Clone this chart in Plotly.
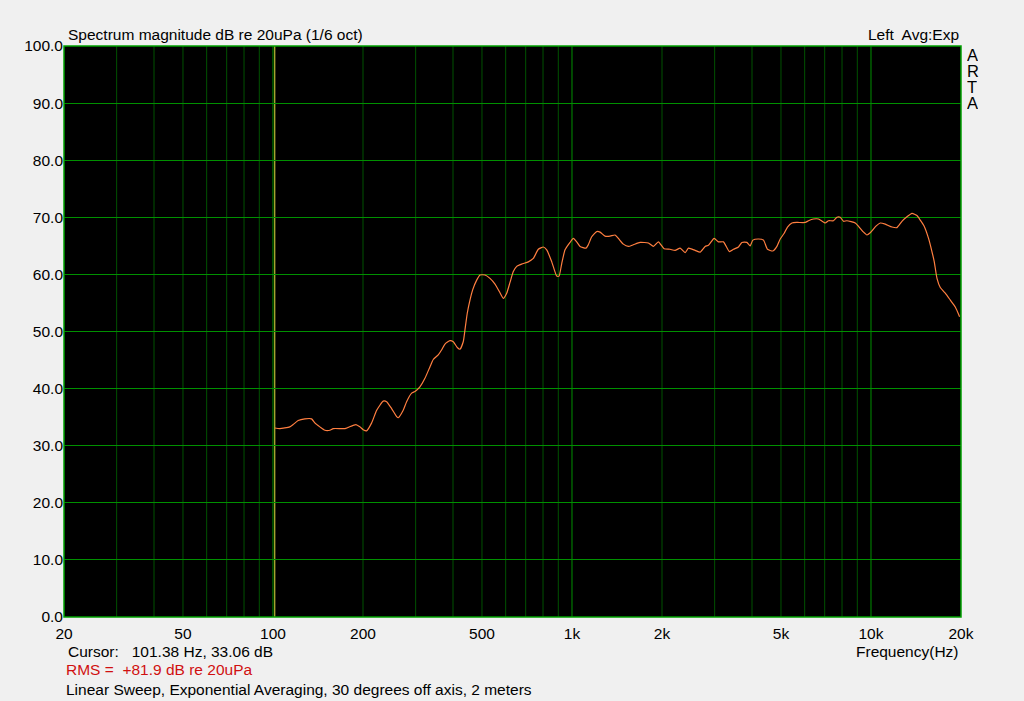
import plotly.graph_objects as go

freq_hz = [101.4, 105.4, 113.8, 116.8, 121.4, 127.8, 134.6, 138.0, 143.5, 149.1,
           155.0, 159.0, 174.0, 178.4, 189.4, 195.2, 200.3, 205.6, 213.8, 222.2,
           233.7, 239.9, 249.3, 259.2, 262.4, 272.6, 279.8, 290.9, 298.4, 310.0,
           322.2, 334.9, 343.6, 357.0, 366.6, 376.0, 390.8, 400.9, 413.4, 422.0,
           432.8, 438.6, 446.4, 455.8, 465.4, 480.0, 492.4, 511.8, 531.8, 552.8,
           571.4, 589.2, 604.8, 620.4, 636.4, 653.4, 679.0, 714.4, 742.4, 771.6,
           802.0, 823.2, 855.6, 889.2, 905.0, 924.0, 947.8, 985.0, 1010, 1037,
           1064, 1114, 1134, 1164, 1210, 1241, 1290, 1341, 1393, 1429,
           1485, 1544, 1604, 1689, 1801, 1872, 1945, 2032, 2128, 2212,
           2300, 2390, 2452, 2582, 2682, 2788, 2860, 2988, 3090, 3210,
           3362, 3468, 3604, 3700, 3844, 3944, 4026, 4204, 4370, 4506,
           4698, 4846, 4970, 5126, 5258, 5440, 5652, 6026, 6180, 6422,
           6674, 7028, 7210, 7492, 7692, 7890, 8094, 8308, 8860, 9088,
           9398, 9692, 9942, 10412, 10740, 11162, 11752, 12212, 12690, 13190,
           13710, 14248, 14618, 15076, 15578, 15990, 16280, 16622, 17050, 17722,
           18420, 19140, 19786]
level_db = [33.1, 33.0, 33.3, 33.7, 34.4, 34.7, 34.7, 34.0, 33.3, 32.7,
            32.7, 33.0, 33.0, 33.2, 33.7, 33.3, 32.8, 32.6, 34.0, 36.2,
            37.8, 37.7, 36.5, 35.1, 34.9, 36.2, 37.7, 39.2, 39.5, 40.3,
            41.8, 43.8, 45.1, 45.9, 46.8, 47.8, 48.4, 48.2, 47.2, 46.9,
            48.2, 50.3, 53.2, 55.5, 57.3, 59.0, 59.9, 59.9, 59.3, 58.3,
            57.0, 55.8, 56.7, 58.6, 60.5, 61.4, 61.8, 62.2, 62.8, 64.4,
            64.8, 64.3, 62.2, 59.7, 59.7, 61.9, 64.3, 65.6, 66.3, 65.7,
            64.9, 64.6, 65.2, 66.6, 67.5, 67.4, 66.7, 66.7, 66.9, 66.3,
            65.3, 64.9, 65.2, 65.6, 65.5, 64.9, 65.7, 64.5, 64.4, 64.2,
            64.6, 63.8, 64.6, 64.2, 63.9, 64.9, 65.1, 66.3, 65.7, 65.7,
            64.0, 64.4, 64.8, 65.6, 65.6, 65.0, 66.0, 66.2, 66.0, 64.4,
            64.1, 64.9, 66.2, 67.2, 68.3, 69.0, 69.1, 69.1, 69.4, 69.7,
            69.7, 69.0, 69.4, 69.4, 70.0, 70.0, 69.3, 69.4, 69.0, 68.4,
            67.5, 66.9, 67.3, 68.5, 69.0, 68.8, 68.3, 68.2, 69.3, 70.1,
            70.7, 70.3, 69.5, 68.4, 66.3, 64.0, 62.2, 59.3, 57.7, 56.7,
            55.5, 54.3, 52.6]

x_tick_vals = [20, 50, 100, 200, 500, 1000, 2000, 5000, 10000, 20000]
x_tick_text = ["20", "50", "100", "200", "500", "1k", "2k", "5k", "10k", "20k"]
minor_grid_vals = [30, 40, 50, 60, 70, 80, 90, 200, 300, 400, 500, 600, 700, 800, 900,
                   2000, 3000, 4000, 5000, 6000, 7000, 8000, 9000]
decade_vals = [100, 1000, 10000]
y_tick_vals = [0, 10, 20, 30, 40, 50, 60, 70, 80, 90, 100]
y_tick_text = ["0.0", "10.0", "20.0", "30.0", "40.0", "50.0", "60.0", "70.0", "80.0", "90.0", "100.0"]
cursor_hz = 101.38
side_letters = ["A", "R", "T", "A"]

FONT = "Liberation Sans, Arial, sans-serif"
FS = 15.5

fig = go.Figure()
fig.add_trace(go.Scatter(x=freq_hz, y=level_db, mode="lines",
                         line=dict(color="#FF7F40", width=1.2, shape="spline", smoothing=0.5),
                         hoverinfo="skip", showlegend=False))

shapes = []
for v in minor_grid_vals:
    shapes.append(dict(type="line", xref="x", yref="paper", x0=v, x1=v, y0=0, y1=1,
                       line=dict(color="#005200", width=1), layer="below"))
for v in decade_vals:
    shapes.append(dict(type="line", xref="x", yref="paper", x0=v, x1=v, y0=0, y1=1,
                       line=dict(color="#009000", width=1), layer="below"))
shapes.append(dict(type="line", xref="x", yref="paper", x0=cursor_hz, x1=cursor_hz, y0=0, y1=1,
                   line=dict(color="#E0E040", width=1), layer="below"))
shapes.append(dict(type="rect", xref="paper", yref="paper", x0=0, x1=1, y0=0, y1=1,
                   line=dict(color="#00A000", width=1.5), fillcolor="rgba(0,0,0,0)"))

fig.update_layout(
    width=1024, height=701,
    margin=dict(l=64, r=63, t=46, b=84),
    paper_bgcolor="#F0F0F0", plot_bgcolor="#000000",
    font=dict(family=FONT, size=FS, color="#000000"),
    shapes=shapes,
    xaxis=dict(type="log", range=[1.30103, 4.30103], tickvals=x_tick_vals, ticktext=x_tick_text,
               showgrid=False, zeroline=False, ticks="", showline=False, ticklabelstandoff=5,
               tickfont=dict(size=FS, family=FONT)),
    yaxis=dict(range=[0, 100], tickvals=y_tick_vals, ticktext=y_tick_text,
               showgrid=True, gridcolor="#009000", gridwidth=1, zeroline=False,
               ticks="", showline=False, tickfont=dict(size=FS, family=FONT)),
)

ann = [
    dict(text="Spectrum magnitude dB re 20uPa (1/6 oct)", x=0.002, y=(617 - 34) / 571, xanchor="left", yanchor="middle"),
    dict(text="Left  Avg:Exp", x=1.0, y=(617 - 34) / 571, xanchor="right", yanchor="middle"),
    dict(text="Cursor:   101.38 Hz, 33.06 dB", x=0.002, y=(617 - 651) / 571, xanchor="left", yanchor="middle"),
    dict(text="RMS =  +81.9 dB re 20uPa", x=0.0, y=(617 - 670) / 571, xanchor="left", yanchor="middle",
         font=dict(color="#D01010", size=FS, family=FONT)),
    dict(text="Linear Sweep, Exponential Averaging, 30 degrees off axis, 2 meters", x=0.0,
         y=(617 - 689) / 571, xanchor="left", yanchor="middle"),
    dict(text="Frequency(Hz)", x=1.0, y=(617 - 651) / 571, xanchor="right", yanchor="middle"),
]
for i, letter in enumerate(side_letters):
    ann.append(dict(text=letter, x=1.004, y=(617 - (55.5 + 16.0 * i)) / 571, xanchor="left", yanchor="middle",
                    height=14, font=dict(size=16.5, family=FONT)))
for a in ann:
    a.update(xref="paper", yref="paper", showarrow=False)
    a.setdefault("font", dict(size=FS, family=FONT))
fig.update_layout(annotations=ann)

fig.write_html("out.html", config={"displayModeBar": False},
               post_script="document.body.style.margin='0';document.body.style.background='#F0F0F0';")
